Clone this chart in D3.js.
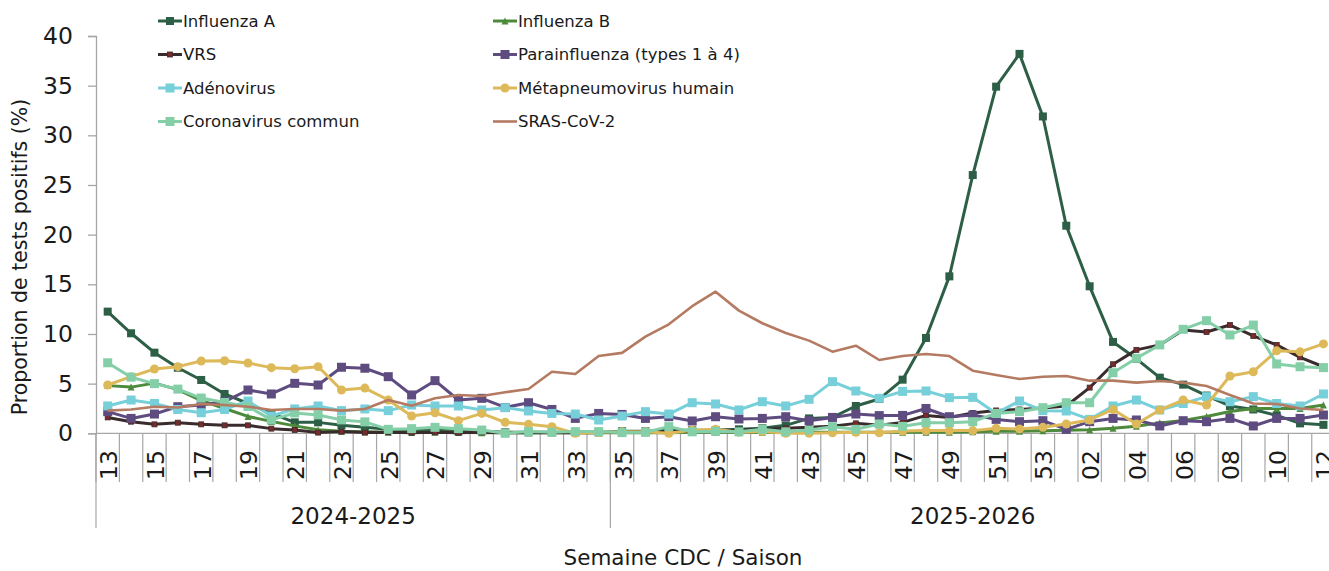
<!DOCTYPE html>
<html>
<head>
<meta charset="utf-8">
<script src="https://cdn.jsdelivr.net/npm/d3@7"></script>
<style>
  html, body { margin: 0; padding: 0; background: #fff; }
  svg { display: block; font-family: "DejaVu Sans", sans-serif; }
</style>
</head>
<body>
<svg id="chart" width="1329" height="571"></svg>
<script>
// ---------- DATA ----------
const weeks = ["13","14","15","16","17","18","19","20","21","22","23","24","25","26","27","28","29","30","31","32","33","34",
  "35","36","37","38","39","40","41","42","43","44","45","46","47","48","49","50","51","52","53",
  "01","02","03","04","05","06","07","08","09","10","11","12"];
const seasons = ["2024-2025", "2025-2026"];
const seasonSizes = [22, 31];
const yTicks = [0, 5, 10, 15, 20, 25, 30, 35, 40];

const influenzaA = [12.25,10.07,8.12,6.6,5.37,3.96,3.0,2.0,1.1,1.1,0.8,0.6,0.4,0.3,0.3,0.2,0.2,0.1,0.1,0.1,0.1,0.1,
  0.2,0.2,0.3,0.3,0.3,0.4,0.5,0.8,1.5,1.6,2.75,3.45,5.4,9.6,15.8,26.0,34.9,38.2,31.9,20.9,14.8,9.2,7.5,5.6,4.9,3.8,2.75,2.4,1.8,1.0,0.85];
const influenzaB = [4.8,4.65,5.05,4.4,3.3,2.5,1.7,1.2,0.75,0.35,0.2,0.15,0.1,0.1,0.1,0.1,0.05,0.05,0.05,0.05,0.05,0.05,
  0.05,0.05,0.05,0.1,0.1,0.1,0.1,0.1,0.1,0.1,0.1,0.1,0.1,0.1,0.1,0.15,0.2,0.2,0.25,0.3,0.35,0.5,0.7,1.05,1.3,1.7,2.2,2.5,2.5,2.5,2.85];
const vrs = [1.6,1.17,0.9,1.07,0.9,0.8,0.8,0.47,0.33,0.07,0.17,0.07,0.1,0.05,0.1,0.05,0.1,0.05,0.05,0.05,0.05,0.05,
  0.15,0.15,0.2,0.2,0.3,0.3,0.4,0.5,0.6,0.7,1.0,0.8,1.1,1.8,1.6,2.05,2.3,2.4,2.55,2.75,4.6,6.95,8.4,8.9,10.4,10.2,10.9,9.8,8.9,7.65,6.7];
const parainfluenza = [2.18,1.5,1.94,2.68,2.85,3.18,4.36,3.96,5.03,4.86,6.65,6.55,5.7,3.86,5.3,3.35,3.52,2.6,3.08,2.4,1.5,2.0,
  1.9,1.5,1.67,1.24,1.67,1.44,1.5,1.67,1.27,1.6,1.94,1.78,1.8,2.5,1.67,1.84,1.4,1.17,1.27,0.4,1.17,1.5,1.34,0.74,1.27,1.17,1.5,0.74,1.5,1.5,1.84];
const adenovirus = [2.75,3.35,3.0,2.4,2.07,2.4,3.25,1.74,2.45,2.75,2.28,2.45,2.28,2.85,2.75,2.75,2.35,2.58,2.25,2.0,1.94,1.34,
  1.74,2.18,1.94,3.08,2.95,2.35,3.18,2.75,3.42,5.2,4.26,3.52,4.22,4.26,3.59,3.62,2.0,3.25,2.28,2.25,1.4,2.75,3.35,2.35,3.0,3.69,3.18,3.69,3.0,2.75,3.96];
const metapneumovirus = [4.86,5.7,6.47,6.71,7.28,7.31,7.08,6.61,6.5,6.71,4.36,4.55,3.35,1.74,2.07,1.27,2.0,1.1,0.9,0.67,0.0,0.1,
  0.15,0.15,0.0,0.3,0.4,0.1,0.2,0.0,0.0,0.05,0.1,0.05,0.23,0.27,0.27,0.27,0.5,0.44,0.6,0.94,1.34,2.4,0.94,2.35,3.35,2.85,5.77,6.2,8.3,8.2,9.0];
const coronavirus = [7.1,5.65,5.0,4.45,3.55,3.1,2.7,1.35,2.05,1.85,1.35,1.15,0.4,0.47,0.6,0.47,0.33,0.0,0.17,0.1,0.17,0.17,
  0.07,0.1,0.67,0.15,0.2,0.15,0.4,0.15,0.33,0.67,0.4,0.94,0.7,1.07,1.07,1.17,2.0,2.18,2.58,3.08,3.08,6.1,7.55,8.9,10.47,11.34,9.9,10.9,6.98,6.7,6.61];
const sarsCoV2 = [2.28,2.4,2.68,2.6,2.95,2.85,2.68,2.35,2.45,2.45,2.28,2.45,3.35,2.78,3.52,3.86,3.76,4.13,4.46,6.2,5.97,7.78,
  8.1,9.73,10.97,12.8,14.26,12.35,11.08,10.1,9.33,8.22,8.82,7.38,7.78,7.98,7.78,6.3,5.87,5.47,5.7,5.77,5.3,5.3,5.1,5.27,5.1,4.76,3.86,3.0,2.95,2.5,2.35];

const seriesNames = ["Influenza A","Influenza B","VRS","Parainfluenza (types 1 à 4)","Adénovirus","Métapneumovirus humain","Coronavirus commun","SRAS-CoV-2"];

// ---------- STYLE ----------
const styles = [
  {line:"#2D5E46", fill:"#2D5E46", shape:"square", size:8, width:3},
  {line:"#4E8A3C", fill:"#4E8A3C", shape:"triangle", size:7, width:3},
  {line:"#3A2C2C", fill:"#7A2A2A", shape:"square", size:5, width:3},
  {line:"#5E4B7F", fill:"#5E4B7F", shape:"square", size:9, width:3},
  {line:"#76CFD9", fill:"#76CFD9", shape:"square", size:9, width:3},
  {line:"#DDB95A", fill:"#DDB95A", shape:"circle", size:9, width:3},
  {line:"#84CFA8", fill:"#84CFA8", shape:"square", size:9, width:3},
  {line:"#B47B62", fill:"#B47B62", shape:"none", size:0, width:2.6}
];
const allSeries = [influenzaA, influenzaB, vrs, parainfluenza, adenovirus, metapneumovirus, coronavirus, sarsCoV2];

const svg = d3.select("#chart");
const left = 96, band = 23.38;
const x = d3.scaleBand().domain(d3.range(weeks.length)).range([left, left + band * weeks.length]).padding(0);
const y = d3.scaleLinear().domain([0, 40]).range([433.3, 36]);
const xc = i => x(i) + x.bandwidth() / 2;
const axisColor = "#A6A6A6";

// Y axis
const yAxis = d3.axisLeft(y).tickValues(yTicks).tickSize(8).tickPadding(15);
const gy = svg.append("g").attr("transform", `translate(${left},0)`).call(yAxis);
gy.select(".domain").attr("stroke", axisColor).attr("stroke-width", 1.3);
gy.selectAll(".tick line").attr("stroke", axisColor).attr("stroke-width", 1.3);
gy.selectAll(".tick text").attr("font-size", 23.5).attr("fill", "#1a1a1a").attr("font-family", "DejaVu Sans");

// X axis line
const y0 = y(0);
svg.append("line").attr("x1", left).attr("x2", x.range()[1]).attr("y1", y0).attr("y2", y0)
  .attr("stroke", axisColor).attr("stroke-width", 1.3);

// category boundaries
const bounds = d3.range(weeks.length + 1).map(i => i < weeks.length ? x(i) : x.range()[1]);
svg.append("g").selectAll("line").data(bounds).join("line")
  .attr("x1", d => d).attr("x2", d => d).attr("y1", y0).attr("y2", 482)
  .attr("stroke", axisColor).attr("stroke-width", 1.2);

// week labels (every other)
svg.append("g").selectAll("text").data(weeks.map((w, i) => ({w, i})).filter(d => d.i % 2 === 0)).join("text")
  .attr("transform", d => `translate(${xc(d.i) + 1},465) rotate(-90)`)
  .attr("text-anchor", "middle").attr("dy", "0.36em")
  .attr("font-size", 23.5).attr("fill", "#1a1a1a")
  .text(d => d.w);

// season separators and labels
let start = 0;
const seasonInfo = seasons.map((s, k) => { const o = {s, a: start, b: start + seasonSizes[k]}; start += seasonSizes[k]; return o; });
const sepIdx = [0, ...seasonInfo.map(o => o.b)];
svg.append("g").selectAll("line").data(sepIdx).join("line")
  .attr("x1", d => d < weeks.length ? x(d) : x.range()[1])
  .attr("x2", d => d < weeks.length ? x(d) : x.range()[1])
  .attr("y1", y0).attr("y2", 528).attr("stroke", axisColor).attr("stroke-width", 1.2);
svg.append("g").selectAll("text").data(seasonInfo).join("text")
  .attr("x", d => (x(d.a) + (d.b < weeks.length ? x(d.b) : x.range()[1])) / 2)
  .attr("y", 524).attr("text-anchor", "middle").attr("font-size", 23)
  .attr("fill", "#1a1a1a").text(d => d.s);

// axis titles
svg.append("text").attr("x", 683).attr("y", 565).attr("text-anchor", "middle")
  .attr("font-size", 21.5).attr("fill", "#1a1a1a").text("Semaine CDC / Saison");
svg.append("text").attr("transform", "translate(27,257) rotate(-90)").attr("text-anchor", "middle")
  .attr("font-size", 20.5).attr("fill", "#1a1a1a").text("Proportion de tests positifs (%)");

// series
function drawMarker(g, st, cx, cy, scale) {
  const s = st.size * (scale || 1);
  if (st.shape === "square") {
    g.append("rect").attr("x", cx - s / 2).attr("y", cy - s / 2).attr("width", s).attr("height", s)
      .attr("fill", st.fill).attr("stroke", st.line === st.fill ? "none" : st.line).attr("stroke-width", 0.8);
  } else if (st.shape === "circle") {
    g.append("circle").attr("cx", cx).attr("cy", cy).attr("r", s / 2).attr("fill", st.fill);
  } else if (st.shape === "triangle") {
    const h = s;
    g.append("path").attr("d", `M${cx},${cy - h / 2}L${cx + h / 2},${cy + h / 2}L${cx - h / 2},${cy + h / 2}Z`).attr("fill", st.fill);
  }
}
const line = d3.line().x((d, i) => xc(i)).y(d => y(d));
allSeries.forEach((data, k) => {
  const st = styles[k];
  const g = svg.append("g");
  g.append("path").datum(data).attr("d", line).attr("fill", "none")
    .attr("stroke", st.line).attr("stroke-width", st.width).attr("stroke-linejoin", "round");
  data.forEach((v, i) => drawMarker(g, st, xc(i), y(v)));
});

// legend
const legendCols = [158, 493], legendRows = [21, 54.5, 88, 121.5];
seriesNames.forEach((name, k) => {
  const st = styles[k];
  const lx = legendCols[k % 2], ly = legendRows[Math.floor(k / 2)];
  const g = svg.append("g");
  g.append("line").attr("x1", lx).attr("x2", lx + 24).attr("y1", ly).attr("y2", ly)
    .attr("stroke", st.line).attr("stroke-width", st.width);
  drawMarker(g, st, lx + 12, ly, 1);
  g.append("text").attr("x", lx + 25).attr("y", ly).attr("dy", "0.36em")
    .attr("font-size", 16.5).attr("fill", "#1a1a1a").text(name);
});
</script>
</body>
</html>
